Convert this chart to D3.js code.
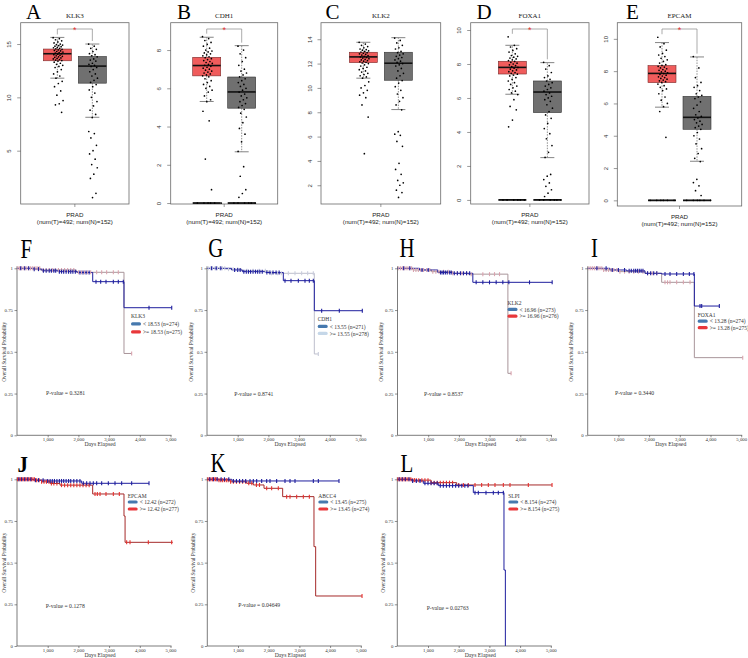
<!DOCTYPE html>
<html><head><meta charset="utf-8">
<script src="https://cdn.jsdelivr.net/npm/d3@7"></script>
<style>body{margin:0;background:#fff}svg{display:block}</style>
</head><body><svg id="c" width="748" height="658"></svg>
<script>
// ================= DATA =================
// ---- box plots (GEPIA, PRAD) ----
const boxGenes = ["KLK3","CDH1","KLK2","FOXA1","EPCAM"];
const boxLetters = ["A","B","C","D","E"];
const boxSig = [true,true,false,true,true];
const boxYDomains = [[0,17],[-0.05,9.43],[0.46,15.36],[-0.24,10.43],[-0.35,11.0]];
const boxYTicks = [[5,10,15],[0,2,4,6,8],[2,4,6,8,10,12,14],[0,2,4,6,8,10],[0,2,4,6,8,10]];
const groupLabel = "PRAD";
const groupCounts = "(num(T)=492; num(N)=152)";
// [whiskerLow, q1, median, q3, whiskerHigh]
const tumorStats = [[11.8,13.43,14.09,14.53,15.62],[5.31,6.65,7.19,7.62,8.67],[10.8,12.08,12.55,12.93,13.75],[6.22,7.41,7.8,8.16,9.1],[5.77,7.29,7.86,8.34,9.77]];
const normalStats = [[8.13,11.33,12.93,13.83,15.0],[2.68,4.96,5.81,6.59,8.23],[8.22,10.63,12.03,12.93,14.13],[2.49,5.14,6.35,7.0,8.08],[2.42,4.4,5.14,6.44,8.88]];
const tumorValues = [
 [15.6,15.5,15.4,15.3,15.2,15.1,15.0,14.95,14.9,14.85,14.8,14.75,14.7,14.65,14.6,14.55,14.5,14.45,14.4,14.35,14.3,14.25,14.2,14.15,14.1,14.05,14.0,13.95,13.9,13.85,13.8,13.75,13.7,13.65,13.6,13.55,13.5,13.45,13.4,13.3,13.2,13.1,13.0,12.9,12.8,12.6,12.4,12.2,12.0,11.8,11.5,11.3,11.0,10.6,10.2,9.7,9.4,9.3,8.6],
 [8.7,8.6,8.5,8.4,8.3,8.2,8.1,8.0,7.95,7.9,7.85,7.8,7.75,7.7,7.65,7.6,7.55,7.5,7.45,7.4,7.35,7.3,7.25,7.2,7.15,7.1,7.05,7.0,6.95,6.9,6.85,6.8,6.75,6.7,6.65,6.6,6.5,6.4,6.3,6.2,6.1,6.0,5.9,5.8,5.6,5.4,5.3,4.8,4.3,2.3,0.7,0,0,0,0,0,0],
 [13.75,13.6,13.5,13.4,13.3,13.2,13.15,13.1,13.05,13.0,12.95,12.9,12.85,12.8,12.75,12.7,12.65,12.6,12.55,12.5,12.45,12.4,12.35,12.3,12.25,12.2,12.15,12.1,12.05,12.0,11.9,11.8,11.7,11.6,11.5,11.4,11.3,11.2,11.1,11.0,10.9,10.8,10.5,10.2,10.0,9.8,9.6,9.4,9.2,8.6,7.6,4.6],
 [9.6,9.1,9.0,8.9,8.8,8.7,8.6,8.5,8.45,8.4,8.35,8.3,8.25,8.2,8.15,8.1,8.05,8.0,7.95,7.9,7.85,7.8,7.75,7.7,7.65,7.6,7.55,7.5,7.45,7.4,7.35,7.3,7.2,7.1,7.0,6.9,6.8,6.7,6.6,6.5,6.4,6.3,6.2,5.9,5.5,5.3,4.7,4.3,0,0,0,0,0,0],
 [10.1,9.7,9.5,9.3,9.1,9.0,8.9,8.8,8.7,8.6,8.5,8.4,8.35,8.3,8.25,8.2,8.15,8.1,8.05,8.0,7.95,7.9,7.85,7.8,7.75,7.7,7.65,7.6,7.55,7.5,7.45,7.4,7.35,7.3,7.2,7.1,7.0,6.9,6.8,6.6,6.4,6.2,6.0,5.8,5.5,3.9,0,0,0,0,0,0]
];
const normalValues = [
 [15.0,14.8,14.6,14.5,14.3,14.1,14.0,13.9,13.8,13.6,13.5,13.4,13.2,13.1,13.0,12.9,12.8,12.6,12.4,12.2,12.0,11.8,11.6,11.4,11.2,11.0,10.7,10.4,10.0,9.6,9.2,8.8,8.4,8.1,6.8,6.6,6.2,5.5,5.0,4.7,4.2,3.7,3.4,2.8,2.4,1.0,0.6],
 [8.2,8.0,7.8,7.6,7.4,7.2,7.0,6.9,6.8,6.7,6.6,6.5,6.4,6.3,6.2,6.1,6.0,5.9,5.8,5.7,5.6,5.5,5.4,5.3,5.2,5.1,5.0,4.9,4.7,4.5,4.2,3.9,3.6,3.2,2.7,1.9,1.4,0.7,0.5,0.3,0,0,0,0,0,0],
 [14.1,13.9,13.7,13.5,13.3,13.2,13.0,12.9,12.8,12.7,12.6,12.5,12.4,12.3,12.2,12.1,12.0,11.9,11.8,11.6,11.4,11.2,11.0,10.8,10.6,10.4,10.1,9.8,9.5,9.2,8.9,8.6,8.2,6.4,6.2,6.1,5.6,5.2,3.8,3.3,2.9,2.4,2.2,2.0,1.6,1.4,1.0],
 [8.1,7.9,7.7,7.5,7.3,7.2,7.1,7.0,6.9,6.8,6.7,6.6,6.5,6.4,6.3,6.2,6.1,6.0,5.9,5.8,5.6,5.4,5.2,5.0,4.8,4.5,4.2,3.9,3.6,3.2,2.8,2.5,1.5,1.4,1.2,1.0,0.8,0.6,0.4,0.2,0,0,0,0,0,0],
 [8.9,8.2,7.6,7.3,7.1,7.0,6.8,6.6,6.5,6.4,6.3,6.1,5.9,5.7,5.5,5.3,5.2,5.1,5.0,4.9,4.8,4.7,4.6,4.5,4.4,4.2,4.0,3.8,3.5,3.2,2.9,2.6,2.4,1.3,1.1,0.9,0.6,0.3,0,0,0,0,0,0]
];

// ---- Kaplan-Meier panels ----
const kmGenes = ["KLK3","CDH1","KLK2","FOXA1","EPCAM","ABCC4","SLPI"];
const kmLetters = ["F","G","H","I","J","K","L"];
const kmLowLabels = ["< 18.53 (n=274)","< 13.55 (n=271)","< 16.96 (n=273)","< 13.28 (n=274)","< 12.42 (n=272)","< 13.45 (n=275)","< 8.154 (n=274)"];
const kmHighLabels = [">= 18.53 (n=275)",">= 13.55 (n=278)",">= 16.96 (n=276)",">= 13.28 (n=275)",">= 12.42 (n=277)",">= 13.45 (n=274)",">= 8.154 (n=275)"];
const kmPValues = ["0.3281","0.8741","0.8537","0.3440","0.1278","0.04649","0.02763"];
const kmXTicks = [1000,2000,3000,4000,5000];
const kmYTicks = [0,0.25,0.5,0.75,1];
// [day, survival probability]
const kmLowSteps = [
 [[0,1],[530,0.995],[816,0.985],[1336,0.98],[1970,0.975],[2466,0.92],[3485,0.764],[5040,0.764]],
 [[0,1],[803,0.99],[1150,0.98],[1900,0.975],[2486,0.926],[3496,0.746],[5059,0.746]],
 [[0,1],[717,0.99],[1313,0.975],[1801,0.97],[2454,0.916],[5038,0.916]],
 [[0,1],[726,0.99],[1270,0.985],[1866,0.97],[2409,0.966],[3474,0.774],[4288,0.774]],
 [[0,1],[533,0.995],[1000,0.99],[2107,0.976],[4300,0.976]],
 [[0,1],[800,0.99],[4290,0.99]],
 [[0,1],[467,0.99],[847,0.976],[1336,0.962],[2476,0.92],[3475,0.456],[3520,0]]
];
const kmHighSteps = [
 [[0,1],[760,0.99],[1935,0.976],[3485,0.49],[3735,0.49]],
 [[0,1],[600,0.995],[1140,0.985],[2000,0.97],[3496,0.487],[3626,0.487]],
 [[0,1],[500,0.99],[1100,0.98],[1800,0.97],[2300,0.965],[3596,0.371],[3700,0.371]],
 [[0,1],[500,0.99],[1000,0.98],[1866,0.97],[2409,0.916],[3474,0.465],[5050,0.465]],
 [[0,1],[590,0.995],[800,0.985],[1080,0.975],[1400,0.965],[2465,0.912],[3485,0.78],[3520,0.622],[5075,0.622]],
 [[0,1],[360,0.995],[740,0.985],[1282,0.976],[1500,0.966],[1847,0.946],[2455,0.896],[3475,0.596],[3530,0.3],[5040,0.3]],
 [[0,1],[500,0.995],[1100,0.98],[1934,0.966],[5040,0.966]]
];
// censoring days
const kmLowCensor = [
 [120,250,380,560,700,860,950,1050,1120,1200,1260,1380,1450,1520,1600,1680,1750,1820,1900,2050,2150,2250,2350,2573,2726,2899,3138,3300,3463,4300,5040],
 [150,300,450,900,1000,1080,1200,1280,1350,1420,1500,1580,1650,1720,1800,1950,2050,2150,2250,2350,2541,2736,2975,3192,3333,3463,3735,4310,5059],
 [200,400,800,1000,1400,1450,1500,1560,1620,1700,1750,1850,1950,2050,2150,2250,2350,2562,2780,2997,3214,3431,3627,4300,5038],
 [300,600,800,1000,1200,1350,1420,1500,1560,1620,1680,1740,1800,1950,2050,2150,2250,2518,2681,2898,3116,3311,3460,3658,3713,4288],
 [60,150,250,350,450,600,700,850,1000,1080,1150,1220,1300,1380,1450,1520,1600,1680,1750,1850,1950,2050,2161,2269,2378,2486,2595,2758,2975,3192,3409,3735,4300],
 [80,200,320,450,560,700,850,950,1050,1150,1250,1391,1499,1608,1771,1934,2042,2259,2531,2694,2857,3454,3617,4290],
 [60,160,260,380,500,620,740,900,1000,1100,1200,1300,1400,1500,1600,1700,1800,1900,2000,2100,2200,2300,2531,2639,2889,3128,3291,3454]
];
const kmHighCensor = [
 [30,80,140,200,260,320,380,440,500,560,620,680,740,850,950,1050,1150,1250,1350,1450,1550,1650,1750,1850,2000,2100,2200,2300,2400,2595,2758,2920,3138,3300,3735],
 [40,110,180,260,340,420,500,580,700,850,1000,1300,1500,1700,1900,2100,2300,2420,2649,2866,3083,3279,3463,3626],
 [40,100,160,220,280,340,400,460,520,600,680,760,850,950,1050,1150,1250,1350,1500,1650,1800,1950,2100,2250,2400,2780,2997,3160,3323,3700],
 [40,100,160,220,280,340,400,460,520,600,680,760,850,950,1050,1200,1350,1500,1650,1800,1950,2100,2250,2518,2600,2681,2898,3116,3333,5050],
 [20,70,120,170,220,270,320,370,420,470,520,570,640,720,800,880,960,1040,1120,1200,1300,1450,1550,1650,1750,1850,1950,2050,2150,2250,2350,2541,2617,2704,2899,3138,3333,3572,3681,4278,5038],
 [20,70,120,170,220,270,320,380,440,500,560,620,680,760,850,950,1050,1150,1250,1350,1450,1600,1700,1934,2096,2313,2585,2694,2911,3128,3324,5040],
 [20,70,120,170,220,270,320,380,440,500,560,620,700,800,900,1000,1100,1200,1300,1400,1500,1600,1700,1800,2000,2151,2313,2531,2747,2965,3182,3454,3671,4268,5040]
];

// ================= LAYOUT / STYLE =================
const serif = "'Liberation Serif','Times New Roman',serif";
const sans = "'Liberation Sans',Arial,sans-serif";
const svg = d3.select("#c");

const boxLayout = [
 {l:20.7,r:129,t:22.7,b:204,lx:26},
 {l:170.7,r:277.7,t:22.7,b:204,lx:177},
 {l:321,r:440.7,t:22.7,b:204,lx:325.5},
 {l:470.7,r:589,t:22.7,b:204,lx:476.5},
 {l:617.3,r:741.7,t:22.7,b:206,lx:626}
];

boxGenes.forEach((gene,i)=>{
  const L = boxLayout[i];
  const g = svg.append("g");
  const y = d3.scaleLinear().domain(boxYDomains[i]).range([L.b, L.t]);
  const cx = (L.l+L.r)/2;
  const xp = d3.scalePoint().domain(["T","N"]).range([cx-17.5, cx+17.5]);
  const bw = 28;
  g.append("rect").attr("x",L.l).attr("y",L.t).attr("width",L.r-L.l).attr("height",L.b-L.t)
   .attr("fill","none").attr("stroke","#6a6a6a").attr("stroke-width",0.8);
  const ax = g.append("g").attr("transform",`translate(${L.l},0)`)
    .call(d3.axisLeft(y).tickValues(boxYTicks[i]).tickSize(3.5).tickSizeOuter(0).tickFormat(d3.format("d")));
  ax.select(".domain").remove();
  ax.selectAll("line").attr("stroke","#555").attr("stroke-width",0.6);
  ax.selectAll("text").attr("x",0).attr("dy",0).attr("text-anchor","middle")
    .attr("transform","translate(-9.5,0) rotate(-90)")
    .attr("font-family",sans).attr("font-size",6).attr("fill","#333");
  g.append("line").attr("x1",cx).attr("x2",cx).attr("y1",L.b).attr("y2",L.b+3).attr("stroke","#555").attr("stroke-width",0.6);
  g.append("text").attr("x",cx).attr("y",L.b+13).attr("text-anchor","middle").attr("font-family",sans).attr("font-size",6.2).attr("fill","#222").text(groupLabel);
  g.append("text").attr("x",cx).attr("y",L.b+19.5).attr("text-anchor","middle").attr("font-family",sans).attr("font-size",6.2).attr("fill","#222").text(groupCounts);
  g.append("text").attr("x",cx).attr("y",L.t-5).attr("text-anchor","middle").attr("font-family",serif).attr("font-size",7).attr("fill","#222").text(gene);
  g.append("text").attr("x",L.lx).attr("y",18.8).attr("font-family",serif).attr("font-size",21).attr("fill","#000").text(boxLetters[i]);

  const groups = [
    {k:"T",stats:tumorStats[i],vals:tumorValues[i],fill:"#F05C5C",stroke:"#7a2a2a",jit:10},
    {k:"N",stats:normalStats[i],vals:normalValues[i],fill:"#707070",stroke:"#333",jit:9}
  ];
  groups.forEach(G=>{
    const x = xp(G.k);
    const [wl,q1,md,q3,wh] = G.stats;
    g.append("line").attr("x1",x).attr("x2",x).attr("y1",y(q3)).attr("y2",y(wh)).attr("stroke","#444").attr("stroke-width",0.6).attr("stroke-dasharray","1.5,1.2");
    g.append("line").attr("x1",x).attr("x2",x).attr("y1",y(q1)).attr("y2",y(wl)).attr("stroke","#444").attr("stroke-width",0.6).attr("stroke-dasharray","1.5,1.2");
    [wl,wh].forEach(v=>g.append("line").attr("x1",x-7).attr("x2",x+7).attr("y1",y(v)).attr("y2",y(v)).attr("stroke","#777").attr("stroke-width",0.9));
    g.append("rect").attr("x",x-bw/2).attr("y",y(q3)).attr("width",bw).attr("height",y(q1)-y(q3))
      .attr("fill",G.fill).attr("stroke",G.stroke).attr("stroke-width",0.6);
    g.append("line").attr("x1",x-bw/2).attr("x2",x+bw/2).attr("y1",y(md)).attr("y2",y(md)).attr("stroke","#111").attr("stroke-width",1.6);
    if(G.vals.some(v=>v===0)){
      g.append("line").attr("x1",x-bw/2).attr("x2",x+bw/2).attr("y1",y(0)).attr("y2",y(0)).attr("stroke","#111").attr("stroke-width",1.8);
    }
    g.append("g").selectAll("circle").data(G.vals).join("circle")
      .attr("cx",(d,j)=> x + 0.8 + (((j*0.6180339)%1)-0.5)*(d===0?bw:G.jit))
      .attr("cy",d=>y(d)).attr("r",0.85).attr("fill","#000");
  });
  if(boxSig[i]){
    const xt = xp("T"), xn = xp("N"), yb = L.t+6.3;
    const topT = y(Math.max(tumorStats[i][4], d3.max(tumorValues[i])))-3;
    const topN = y(Math.max(normalStats[i][4], d3.max(normalValues[i])))-3;
    g.append("path").attr("d",`M${xt},${topT}V${yb}H${xn}V${topN}`).attr("fill","none").attr("stroke","#888").attr("stroke-width",0.7);
    g.append("text").attr("x",(xt+xn)/2).attr("y",yb+4.3).attr("text-anchor","middle").attr("font-family",sans).attr("font-size",9).attr("fill","#E53030").text("*");
  }
});

// ---- KM panels ----
const kmLayout = [
 {x0:17,   y1:268.3, y0:435.3, lg:[114,49.7,57.7,65.7], pv:[29,127], lab:-11.3, de:10.5, hi:"#A8959A", hiC:"#D9A3AE", hiSw:"#E8373A", lx:20.5, ly:258.3, sy:1.25},
 {x0:207,  y1:268.3, y0:435.3, lg:[110.7,52.7,60.2,67.2], pv:[27.3,128], lab:-14.5, de:10.5, hi:"#BDBFCC", hiC:"#C9CDDC", hiSw:"#C5D7E8", lx:208.3, ly:257.3, sy:1.25},
 {x0:397.5,y1:268.3, y0:435.3, lg:[110,36.7,43.2,49.9], pv:[26.5,128], lab:-14.5, de:10.5, hi:"#A8959A", hiC:"#D9A3AE", hiSw:"#E8373A", lx:399.5, ly:257.3, sy:1.25},
 {x0:587.7,y1:268.3, y0:435.3, lg:[110,48.4,54.9,61.4], pv:[27.3,126.5], lab:-14.5, de:10.5, hi:"#A8959A", hiC:"#D9A3AE", hiSw:"#E8373A", lx:591, ly:257.3, sy:1.25},
 {x0:17,   y1:479.3, y0:646, lg:[110.7,18.2,24.8,31.8], pv:[28.7,128.7], lab:-11.3, de:10.5, hi:"#A52A2A", hiC:"#E8302E", hiSw:"#E8373A", lx:17.5, ly:472.3, sy:1.05, bold:true},
 {x0:207.3,y1:479.3, y0:646, lg:[111,18.2,24.8,31.8], pv:[31,127.2], lab:-12.3, de:10.5, hi:"#A52A2A", hiC:"#E8302E", hiSw:"#E8373A", lx:210.5, ly:472.3, sy:1.2},
 {x0:397.3,y1:479.3, y0:646, lg:[111,18.2,24.8,31.8], pv:[29.4,130.2], lab:-12.3, de:10.5, hi:"#A52A2A", hiC:"#E8302E", hiSw:"#E8373A", lx:400.5, ly:472.3, sy:1.15}
];
const lowLine = "#1F1F9E", lowSw = "#4679AE";

function survAt(steps,t){ let s = steps[0][1]; for(const p of steps){ if(p[0]<=t) s=p[1]; } return s; }

kmGenes.forEach((gene,i)=>{
  const L = kmLayout[i];
  const g = svg.append("g");
  const x = d3.scaleLinear().domain([0,5000]).range([L.x0, L.x0+153.5]);
  const y = d3.scaleLinear().domain([0,1]).range([L.y0, L.y1]);
  const xa = g.append("g").attr("transform",`translate(0,${L.y0})`)
    .call(d3.axisBottom(x).tickValues(kmXTicks).tickSize(2).tickSizeOuter(0).tickFormat(d3.format(",")));
  xa.select(".domain").attr("d",`M${L.x0},0H${x(5000)+1}`).attr("stroke","#444").attr("stroke-width",0.7);
  xa.selectAll(".tick line").attr("stroke","#444").attr("stroke-width",0.6);
  xa.selectAll("text").attr("y",2.3).attr("dy","0.71em").attr("font-family",serif).attr("font-size",4.8).attr("fill","#333");
  const ya = g.append("g").attr("transform",`translate(${L.x0},0)`)
    .call(d3.axisLeft(y).tickValues(kmYTicks).tickSize(2.5).tickSizeOuter(0).tickFormat(d=>String(d)));
  ya.select(".domain").attr("d",`M0,${L.y1-2}V${L.y0}`).attr("stroke","#444").attr("stroke-width",0.7);
  ya.selectAll(".tick line").attr("stroke","#444").attr("stroke-width",0.6);
  ya.selectAll("text").attr("x",-4).attr("font-family",serif).attr("font-size",4.8).attr("fill","#333");
  g.append("text").attr("transform",`translate(${L.x0+L.lab},${y(0.5)}) rotate(-90)`).attr("text-anchor","middle")
    .attr("font-family",serif).attr("font-size",5.3).attr("fill","#333").text("Overall Survival Probability");
  g.append("text").attr("x",L.x0+83).attr("y",L.y0+L.de).attr("text-anchor","middle")
    .attr("font-family",serif).attr("font-size",5.7).attr("fill","#333").text("Days Elapsed");
  g.append("text").attr("transform",`translate(${L.lx},${L.ly}) scale(0.95,${L.sy})`).attr("font-family",serif).attr("font-size",22)
    .attr("font-weight",L.bold?"bold":"normal").attr("fill","#000").text(kmLetters[i]);
  const line = d3.line().x(d=>x(d[0])).y(d=>y(d[1])).curve(d3.curveStepAfter);
  g.append("path").attr("d",line(kmHighSteps[i])).attr("fill","none").attr("stroke",L.hi).attr("stroke-width",1);
  g.append("path").attr("d",line(kmLowSteps[i])).attr("fill","none").attr("stroke",lowLine).attr("stroke-width",1);
  g.append("g").selectAll("line").data(kmHighCensor[i]).join("line")
    .attr("x1",d=>x(d)).attr("x2",d=>x(d))
    .attr("y1",d=>y(survAt(kmHighSteps[i],d))-2).attr("y2",d=>y(survAt(kmHighSteps[i],d))+2)
    .attr("stroke",L.hiC).attr("stroke-width",1.1);
  g.append("g").selectAll("line").data(kmLowCensor[i]).join("line")
    .attr("x1",d=>x(d)).attr("x2",d=>x(d))
    .attr("y1",d=>y(survAt(kmLowSteps[i],d))-2).attr("y2",d=>y(survAt(kmLowSteps[i],d))+2)
    .attr("stroke",lowLine).attr("stroke-width",1.1);
  const lx = L.x0+L.lg[0];
  g.append("text").attr("x",lx).attr("y",L.y1+L.lg[1]).attr("font-family",serif).attr("font-size",5.5).attr("fill","#333").text(gene);
  [[kmLowLabels[i],lowSw,L.lg[2]],[kmHighLabels[i],L.hiSw,L.lg[3]]].forEach(([t,c,dy])=>{
    g.append("rect").attr("x",lx).attr("y",L.y1+dy-3.7).attr("width",10).attr("height",3.2).attr("rx",1.5).attr("fill",c);
    g.append("text").attr("x",lx+12).attr("y",L.y1+dy).attr("font-family",serif).attr("font-size",5.5).attr("fill","#333").text(t);
  });
  g.append("text").attr("x",L.x0+L.pv[0]).attr("y",L.y1+L.pv[1]).attr("font-family",serif).attr("font-size",5.7).attr("fill","#333").text("P-value = "+kmPValues[i]);
});
</script></body></html>
